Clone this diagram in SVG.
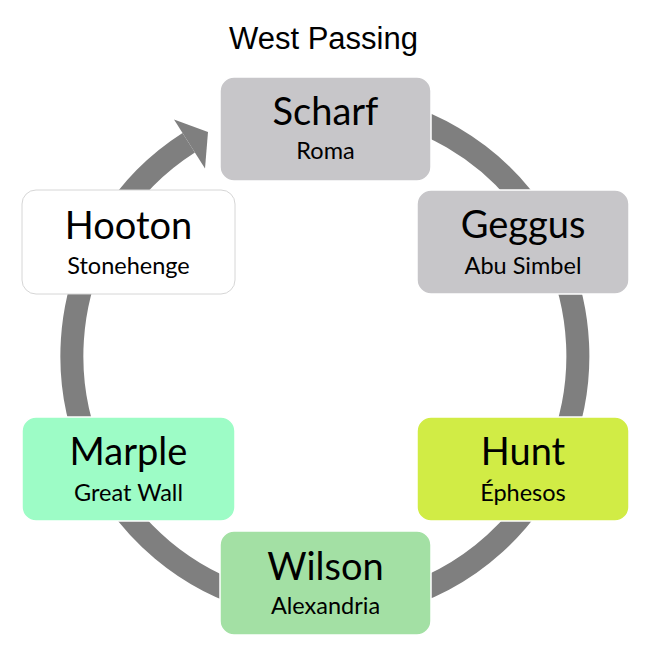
<svg xmlns="http://www.w3.org/2000/svg" width="661" height="667" viewBox="0 0 661 667">
<style>
.box{stroke:#ffffff;stroke-width:1.5}
.t{font-family:Lato,"Open Sans","Liberation Sans",sans-serif;fill:#000;text-anchor:middle}
.n{font-size:38px}
.s{font-size:23.5px}
.title{font-family:"Liberation Sans",Arial,sans-serif;font-size:31px;fill:#000;text-anchor:middle}
</style>
<rect width="661" height="667" fill="#ffffff"/>
<text class="title" x="323.5" y="49">West Passing</text>
<g id="connectors">
<path d="M347,104 A253,253 0 1 1 188.7,142.8" fill="none" stroke="#7f7f7f" stroke-width="23"/>
<polygon points="174,119.6 208,132 205,168.4" fill="#7f7f7f"/>
</g>
<g id="scharf">
<rect class="box" x="220" y="77" width="211" height="104" rx="14" fill="#c7c6c9"/>
<text class="t n" x="325.5" y="125">Scharf</text>
<text class="t s" x="325.5" y="159">Roma</text>
</g>
<g id="geggus">
<rect class="box" x="417" y="190" width="212" height="104" rx="14" fill="#c7c6c9"/>
<text class="t n" x="523" y="238">Geggus</text>
<text class="t s" x="523" y="274">Abu Simbel</text>
</g>
<g id="hunt">
<rect class="box" x="417" y="417" width="212" height="104" rx="14" fill="#d1ec45"/>
<text class="t n" x="523" y="465">Hunt</text>
<text class="t s" x="523" y="501">Éphesos</text>
</g>
<g id="wilson">
<rect class="box" x="220" y="531" width="211" height="104" rx="14" fill="#a3e0a4"/>
<text class="t n" x="325.5" y="580">Wilson</text>
<text class="t s" x="325.5" y="614">Alexandria</text>
</g>
<g id="marple">
<rect class="box" x="22" y="417" width="213" height="104" rx="14" fill="#9dfcc6"/>
<text class="t n" x="128.5" y="465">Marple</text>
<text class="t s" x="128.5" y="501">Great Wall</text>
</g>
<g id="hooton">
<rect x="22" y="190" width="213" height="104" rx="14" fill="#ffffff" stroke="#d6d6d6" stroke-width="1"/>
<text class="t n" x="128.5" y="239">Hooton</text>
<text class="t s" x="128.5" y="274">Stonehenge</text>
</g>
</svg>
